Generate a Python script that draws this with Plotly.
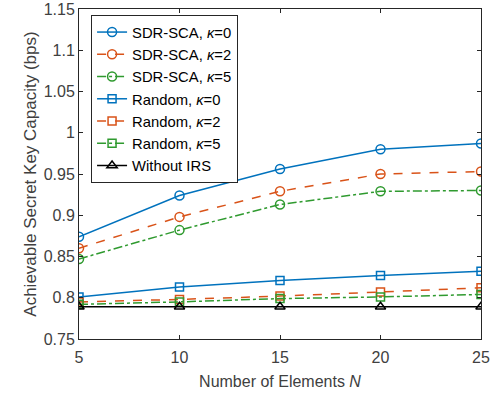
import plotly.graph_objects as go

N = [5, 10, 15, 20, 25]
sdr_k0 = [0.874, 0.924, 0.956, 0.980, 0.987]
sdr_k2 = [0.860, 0.898, 0.929, 0.950, 0.953]
sdr_k5 = [0.847, 0.882, 0.913, 0.929, 0.930]
rnd_k0 = [0.801, 0.813, 0.821, 0.827, 0.832]
rnd_k2 = [0.795, 0.798, 0.802, 0.807, 0.812]
rnd_k5 = [0.792, 0.795, 0.799, 0.801, 0.804]
no_irs = [0.789, 0.789, 0.789, 0.789, 0.789]

names = ["SDR-SCA, <i>κ</i>=0", "SDR-SCA, <i>κ</i>=2", "SDR-SCA, <i>κ</i>=5",
         "Random, <i>κ</i>=0", "Random, <i>κ</i>=2", "Random, <i>κ</i>=5", "Without IRS"]
yticks = [0.75, 0.8, 0.85, 0.9, 0.95, 1.0, 1.05, 1.1, 1.15]
yticklabels = ["0.75", "0.8", "0.85", "0.9", "0.95", "1", "1.05", "1.1", "1.15"]

blue = "#0072BD"
orange = "#D95319"
green = "#2f9a2f"

series = [
    (sdr_k0, blue, "solid", "circle-open", 9),
    (sdr_k2, orange, "dash", "circle-open", 9),
    (sdr_k5, green, "dashdot", "circle-open", 9),
    (rnd_k0, blue, "solid", "square-open", 8),
    (rnd_k2, orange, "dash", "square-open", 8),
    (rnd_k5, green, "dashdot", "square-open", 8),
    (no_irs, "#000000", "solid", "triangle-up-open", 9),
]

fig = go.Figure()
for (ys, col, dash, sym, ms), nm in zip(series, names):
    fig.add_trace(go.Scatter(
        x=N, y=ys, name=nm, mode="lines+markers",
        line=dict(color=col, width=1.5, dash=dash),
        marker=dict(symbol=sym, size=ms, color=col, line=dict(width=1.5, color=col)),
    ))

axis_common = dict(showline=True, linecolor="#262626", linewidth=1, mirror="ticks",
                   ticks="inside", ticklen=4, tickcolor="#262626", showgrid=False,
                   zeroline=False, ticklabeloverflow="allow", automargin=False,
                   tickfont=dict(size=16, color="#404040"))

fig.update_layout(
    width=500, height=400,
    margin=dict(l=79, r=19, t=9, b=61),
    paper_bgcolor="white", plot_bgcolor="white",
    font=dict(family="Liberation Sans, Arial, sans-serif", color="#404040"),
    xaxis=dict(range=[5, 25], tickvals=N, ticklabelstandoff=4,
               title=dict(text="Number of Elements <i>N</i>", font=dict(size=16), standoff=10),
               **axis_common),
    yaxis=dict(range=[0.75, 1.15], tickvals=yticks, ticktext=yticklabels,
               title=dict(text="Achievable Secret Key Capacity (bps)", font=dict(size=17), standoff=2),
               **axis_common),
    legend=dict(x=0.03, y=0.982, xanchor="left", yanchor="top",
                bgcolor="white", bordercolor="#262626", borderwidth=1,
                font=dict(size=14.8, color="#000000"), tracegroupgap=0,
                itemwidth=30),
    showlegend=True,
)

fig.write_html("out.html", config={"displayModeBar": False})

with open("out.html", "r", encoding="utf-8") as f:
    html = f.read()
html = html.replace("<body>", '<body style="margin:0;padding:0;">', 1)
with open("out.html", "w", encoding="utf-8") as f:
    f.write(html)
